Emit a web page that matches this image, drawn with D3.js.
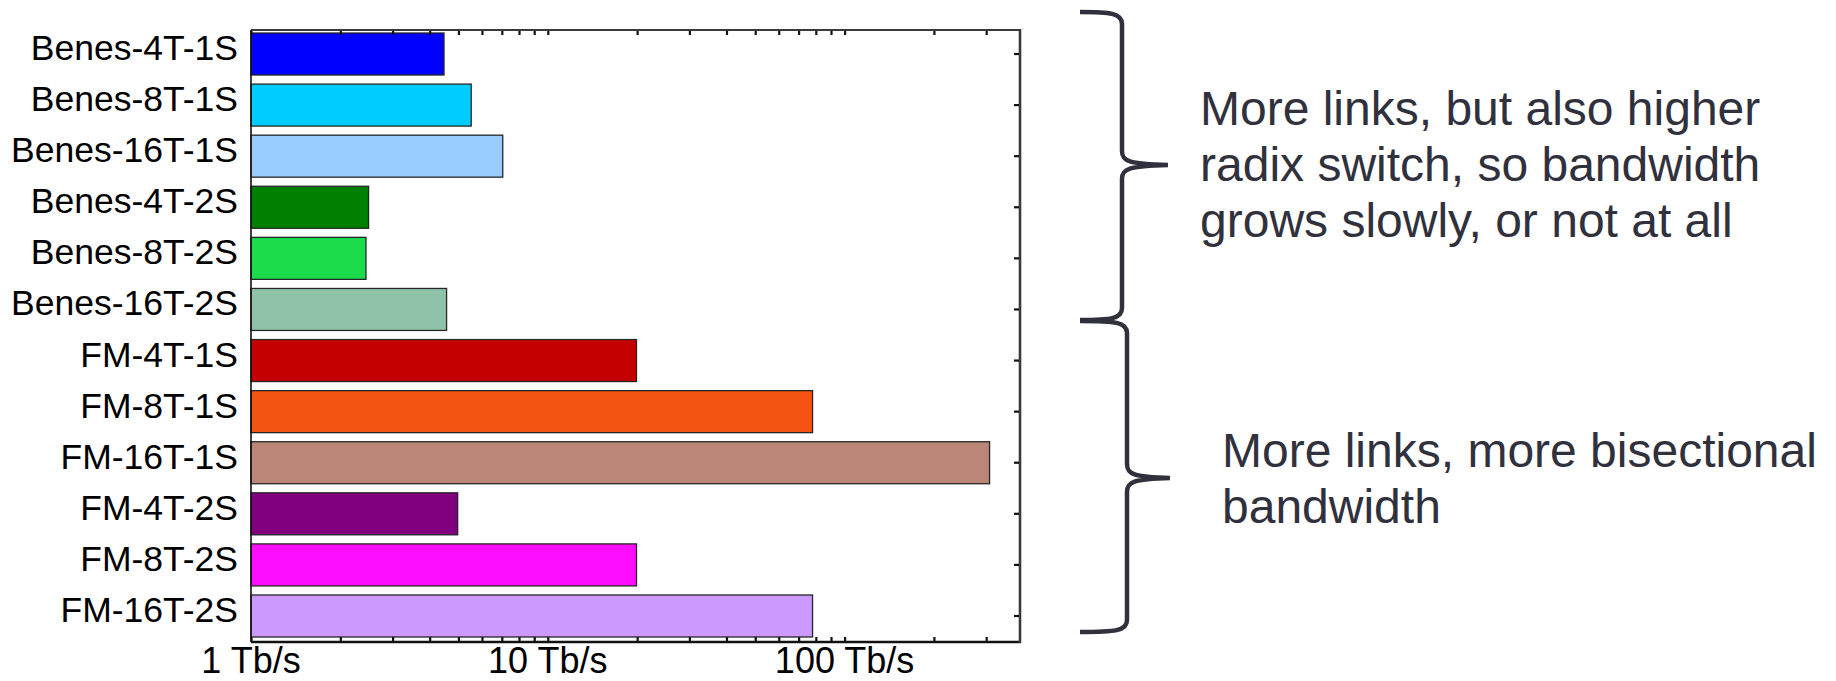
<!DOCTYPE html>
<html>
<head>
<meta charset="utf-8">
<script src="https://cdn.jsdelivr.net/npm/d3@7"></script>
<style>
  html, body { margin: 0; padding: 0; background: #ffffff; }
  svg { display: block; }
</style>
</head>
<body>
<svg id="chart" width="1836" height="681"></svg>
<script>
// ---------------- data ----------------
const categories = [
  "Benes-4T-1S", "Benes-8T-1S", "Benes-16T-1S",
  "Benes-4T-2S", "Benes-8T-2S", "Benes-16T-2S",
  "FM-4T-1S", "FM-8T-1S", "FM-16T-1S",
  "FM-4T-2S", "FM-8T-2S", "FM-16T-2S"
];
const bandwidthTbps = [4.47, 5.52, 7.05, 2.49, 2.44, 4.56, 19.9, 78, 308, 4.97, 19.9, 78];
const barColors = [
  "#0000ff", "#00ccff", "#99ccff",
  "#008000", "#1cdc4c", "#8ec3a9",
  "#c40000", "#f55312", "#b98677",
  "#800080", "#ff0dff", "#cc99ff"
];
const xDomain = [1, 390];
const xTickValues = [1, 10, 100];
const xTickLabels = ["1 Tb/s", "10 Tb/s", "100 Tb/s"];
const minorTicks = [1,2,3,4,5,6,7,8,9,10,20,30,40,50,60,70,80,90,100,200,300];
const notes = [
  ["More links, but also higher", "radix switch, so bandwidth", "grows slowly, or not at all"],
  ["More links, more bisectional", "bandwidth"]
];

// ---------------- layout ----------------
const svg = d3.select("#chart");
const L = 251, R = 1020, T = 30, B = 642;
const textFont = "'Liberation Sans', Arial, Helvetica, sans-serif";
const noteColor = "#30313d";

const x = d3.scaleLog().domain(xDomain).range([L, R]);
const y = d3.scaleBand().domain(categories).range([33, 637]).paddingInner(0.178).paddingOuter(0);

// bars
svg.append("g").selectAll("rect")
  .data(categories)
  .join("rect")
  .attr("x", x(1))
  .attr("y", d => y(d))
  .attr("width", (d, i) => x(bandwidthTbps[i]) - x(1))
  .attr("height", y.bandwidth())
  .attr("fill", (d, i) => barColors[i])
  .attr("stroke", "#262626")
  .attr("stroke-width", 1.3);

// frame
const frame = svg.append("g");
frame.append("line").attr("x1", L).attr("x2", R).attr("y1", T).attr("y2", T)
  .attr("stroke", "#3a3a3a").attr("stroke-width", 2);
frame.append("line").attr("x1", L).attr("x2", R + 1).attr("y1", B).attr("y2", B)
  .attr("stroke", "#111").attr("stroke-width", 2.4);
frame.append("line").attr("x1", L).attr("x2", L).attr("y1", T).attr("y2", B)
  .attr("stroke", "#111").attr("stroke-width", 1.6);
frame.append("line").attr("x1", R).attr("x2", R).attr("y1", T - 1).attr("y2", B + 1)
  .attr("stroke", "#3a3a3a").attr("stroke-width", 2.6);

// minor ticks (inward) on top & bottom axes
function styleTicks(g) {
  g.select(".domain").remove();
  g.selectAll(".tick line").attr("stroke", "#111").attr("stroke-width", 2.2);
  g.selectAll(".tick text").remove();
}
svg.append("g").attr("transform", `translate(0,${B - 1})`)
  .call(d3.axisBottom(x).tickValues(minorTicks).tickSizeInner(-4).tickSizeOuter(0).tickFormat(""))
  .call(styleTicks);
svg.append("g").attr("transform", `translate(0,${T + 1})`)
  .call(d3.axisTop(x).tickValues(minorTicks).tickSizeInner(-4).tickSizeOuter(0).tickFormat(""))
  .call(styleTicks);

// right axis ticks at category centres
svg.append("g").attr("transform", `translate(${R - 1},0)`)
  .call(d3.axisRight(y).tickSizeInner(-5).tickSizeOuter(0).tickFormat(""))
  .call(styleTicks);

// x tick labels
svg.append("g").selectAll("text")
  .data(xTickValues)
  .join("text")
  .attr("x", d => x(d))
  .attr("y", 673)
  .attr("text-anchor", "middle")
  .attr("font-family", textFont)
  .attr("font-size", 36)
  .attr("fill", "#000")
  .text((d, i) => xTickLabels[i]);

// category labels
svg.append("g").selectAll("text")
  .data(categories)
  .join("text")
  .attr("x", 238)
  .attr("y", d => y(d) + y.bandwidth() / 2 + 6)
  .attr("text-anchor", "end")
  .attr("font-family", textFont)
  .attr("font-size", 35.5)
  .attr("fill", "#000")
  .text(d => d);

// braces
function bracePath(x0, xv, xtip, yTop, yMid, yBot) {
  return `M${x0},${yTop} C${xv - 12},${yTop} ${xv},${yTop + 1} ${xv},${yTop + 12}` +
         ` L${xv},${yMid - 14} C${xv},${yMid - 4} ${xv + 6},${yMid - 1} ${xtip},${yMid}` +
         ` M${xtip},${yMid} C${xv + 6},${yMid + 1} ${xv},${yMid + 4} ${xv},${yMid + 14}` +
         ` L${xv},${yBot - 12} C${xv},${yBot - 1} ${xv - 12},${yBot} ${x0},${yBot}`;
}
const braces = [
  [1080, 1122, 1168, 12, 165, 320],
  [1080, 1127, 1170, 321, 478, 632]
];
svg.append("g").selectAll("path")
  .data(braces)
  .join("path")
  .attr("d", d => bracePath(...d))
  .attr("fill", "none")
  .attr("stroke", noteColor)
  .attr("stroke-width", 4.5);

// annotation texts
const noteX = [1200, 1222];
const noteY = [125, 467];
notes.forEach((lines, k) => {
  svg.append("text")
    .attr("font-family", textFont)
    .attr("font-size", 48)
    .attr("fill", noteColor)
    .selectAll("tspan")
    .data(lines)
    .join("tspan")
    .attr("x", noteX[k])
    .attr("y", (d, i) => noteY[k] + i * 56)
    .text(d => d);
});
</script>
</body>
</html>
